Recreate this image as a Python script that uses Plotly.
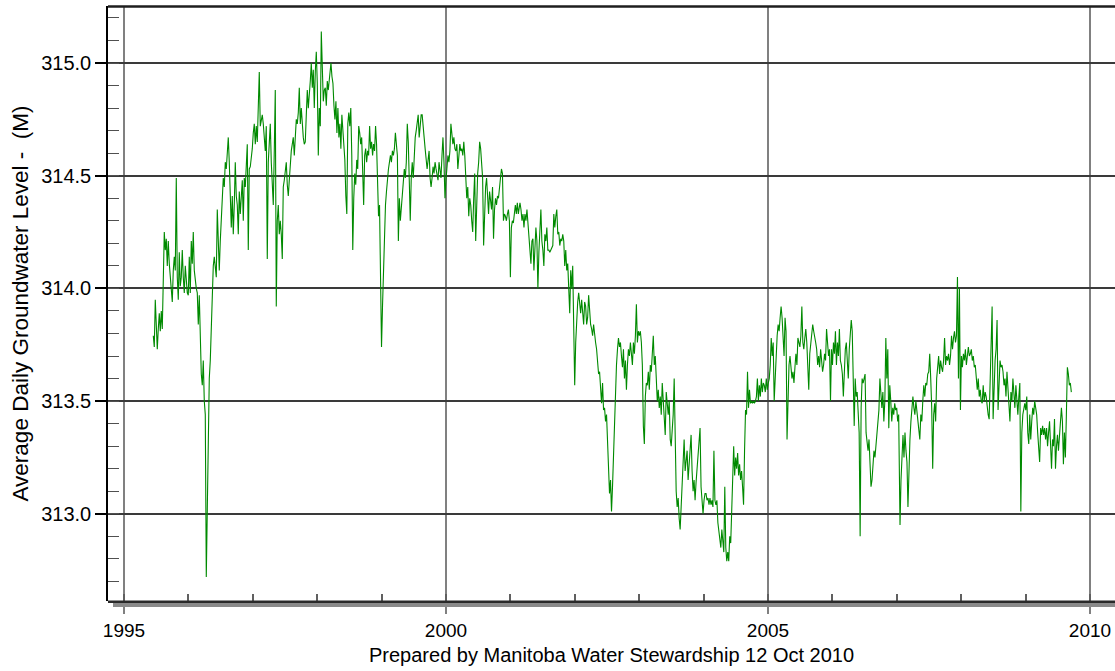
import numpy as np
import plotly.graph_objects as go

# ---- data: average daily groundwater level (m) ----
# each segment: start/end decimal year and the levels between them
seg_a_years = (1995.455, 1998.188)
seg_a_levels = [
    313.79, 313.74, 313.95, 313.84, 313.73, 313.82, 313.89, 313.81, 313.90, 313.82,
    314.14, 314.25, 314.17, 314.22, 314.10, 314.21, 314.11, 314.06, 314.00, 313.94,
    314.08, 314.14, 314.08, 314.49, 314.05, 313.95, 314.16, 314.01, 314.05, 314.17,
    314.05, 313.98, 314.10, 314.01, 313.98, 313.97, 314.14, 313.98, 314.21, 314.11,
    314.25, 314.08, 314.03, 314.00, 313.98, 313.84, 313.97, 313.74, 313.62, 313.57,
    313.68, 313.50, 313.44, 312.72, 313.00, 313.36, 313.60, 313.68, 313.84, 313.92,
    314.10, 314.14, 314.08, 314.05, 314.35, 314.17, 314.08, 314.21, 314.30, 314.41,
    314.49, 314.45, 314.56, 314.53, 314.64, 314.67, 314.56, 314.43, 314.27, 314.41,
    314.24, 314.37, 314.56, 314.41, 314.37, 314.24, 314.43, 314.33, 314.40, 314.48,
    314.30, 314.49, 314.45, 314.53, 314.64, 314.17, 314.53, 314.54, 314.57, 314.62,
    314.69, 314.73, 314.64, 314.72, 314.65, 314.80, 314.96, 314.72, 314.75, 314.77,
    314.73, 314.67, 314.61, 314.72, 314.13, 314.56, 314.67, 314.73, 314.56, 314.43,
    314.37, 314.61, 314.88, 313.92, 314.30, 314.37, 314.24, 314.30, 314.24, 314.13,
    314.45, 314.48, 314.53, 314.56, 314.46, 314.41, 314.48, 314.56, 314.61, 314.64,
    314.67, 314.59, 314.70, 314.75, 314.73, 314.78, 314.89, 314.73, 314.80, 314.72,
    314.67, 314.64, 314.65, 314.77, 314.88, 314.80, 314.89, 314.92, 315.00, 314.89,
    314.97, 314.80, 314.96, 315.05, 314.91, 314.59, 314.80, 314.72, 315.14, 314.91,
    314.83, 314.88, 314.89, 314.81, 314.92, 314.88, 314.94,
]

seg_b_years = (1998.214, 2001.123)
seg_b_levels = [
    315.00, 314.94, 314.91, 314.81, 314.75, 314.83, 314.69, 314.80, 314.67, 314.73,
    314.62, 314.77, 314.70, 314.61, 314.57, 314.41, 314.33, 314.73, 314.78, 314.72,
    314.80, 314.59, 314.17, 314.40, 314.51, 314.46, 314.57, 314.53, 314.72, 314.69,
    314.64, 314.67, 314.51, 314.37, 314.59, 314.62, 314.56, 314.61, 314.59, 314.72,
    314.62, 314.65, 314.59, 314.64, 314.61, 314.72, 314.64, 314.40, 314.32, 314.37,
    314.05, 313.74, 313.92, 314.08, 314.13, 314.37, 314.43, 314.49, 314.53, 314.56,
    314.59, 314.56, 314.61, 314.59, 314.62, 314.69, 314.64, 314.59, 314.21, 314.40,
    314.30, 314.37, 314.40, 314.46, 314.53, 314.49, 314.56, 314.73, 314.65, 314.48,
    314.30, 314.49, 314.56, 314.49, 314.59, 314.67, 314.70, 314.75, 314.77, 314.67,
    314.72, 314.77, 314.77, 314.70, 314.67, 314.62, 314.56, 314.53, 314.57, 314.61,
    314.49, 314.45, 314.49, 314.54, 314.51, 314.56, 314.53, 314.51, 314.48, 314.56,
    314.53, 314.49, 314.59, 314.67, 314.56, 314.40, 314.48, 314.53, 314.59, 314.56,
    314.61, 314.73, 314.69, 314.64, 314.67, 314.62, 314.61, 314.64, 314.53, 314.59,
    314.64, 314.61, 314.62, 314.59, 314.65, 314.59, 314.46, 314.40, 314.45, 314.32,
    314.40, 314.37, 314.30, 314.25, 314.40, 314.51, 314.21, 314.45, 314.51, 314.56,
    314.65, 314.62, 314.56, 314.49, 314.19, 314.37, 314.45, 314.49, 314.40, 314.33,
    314.43, 314.40, 314.35, 314.45, 314.22, 314.35, 314.40, 314.37, 314.41, 314.40,
    314.46, 314.49, 314.53, 314.51, 314.30, 314.33, 314.32, 314.30, 314.33, 314.35,
    314.30, 314.05, 314.27, 314.30, 314.29, 314.35, 314.37, 314.33, 314.38, 314.33,
]

seg_c_years = (2001.149, 2004.084)
seg_c_levels = [
    314.38, 314.35, 314.30, 314.33, 314.27, 314.33, 314.30, 314.35, 314.29, 314.24,
    314.17, 314.11, 314.21, 314.22, 314.08, 314.17, 314.27, 314.21, 314.00, 314.16,
    314.25, 314.35, 314.21, 314.17, 314.10, 314.24, 314.21, 314.27, 314.17, 314.17,
    314.16, 314.17, 314.18, 314.19, 314.33, 314.27, 314.32, 314.35, 314.24, 314.25,
    314.19, 314.22, 314.21, 314.24, 314.21, 314.10, 314.17, 314.08, 314.11, 313.98,
    313.89, 314.08, 314.00, 314.10, 313.81, 313.57, 313.76, 313.90, 313.94, 313.98,
    313.92, 313.89, 313.95, 313.89, 313.84, 313.94, 313.92, 313.84, 313.87, 313.97,
    313.89, 313.84, 313.82, 313.79, 313.84, 313.79, 313.76, 313.73, 313.68, 313.62,
    313.63, 313.54, 313.49, 313.58, 313.46, 313.47, 313.41, 313.44, 313.31, 313.20,
    313.09, 313.15, 313.01, 313.12, 313.28, 313.44, 313.60, 313.66, 313.73, 313.78,
    313.74, 313.76, 313.70, 313.65, 313.73, 313.60, 313.68, 313.55, 313.66, 313.73,
    313.70, 313.76, 313.71, 313.66, 313.76, 313.71, 313.79, 313.93, 313.76, 313.81,
    313.79, 313.81, 313.76, 313.66, 313.39, 313.31, 313.52, 313.58, 313.57, 313.63,
    313.55, 313.66, 313.63, 313.70, 313.79, 313.66, 313.70, 313.60, 313.50, 313.55,
    313.47, 313.52, 313.44, 313.58, 313.50, 313.41, 313.35, 313.54, 313.49, 313.44,
    313.50, 313.33, 313.30, 313.38, 313.44, 313.60, 313.28, 313.10, 313.03, 313.07,
    312.98, 312.93, 313.03, 313.12, 313.22, 313.33, 313.19, 313.23, 313.28, 313.15,
    313.22, 313.31, 313.35, 313.19, 313.10, 313.15, 313.06, 313.14, 313.20, 313.25,
    313.30, 313.38, 313.12, 313.06, 313.00, 313.06, 313.09, 313.09, 313.06, 313.07,
    313.04,
]

seg_d_years = (2004.099, 2007.029)
seg_d_levels = [
    313.07, 313.04, 313.06, 313.03, 313.28, 313.06, 313.04, 313.06, 312.96, 312.93,
    312.90, 312.85, 312.93, 312.87, 312.83, 313.12, 312.85, 312.79, 312.83, 312.79,
    312.90, 312.87, 313.00, 313.09, 313.30, 313.17, 313.25, 313.20, 313.27, 313.17,
    313.22, 313.15, 313.19, 313.12, 313.04, 313.28, 313.46, 313.44, 313.63, 313.47,
    313.55, 313.49, 313.50, 313.49, 313.50, 313.49, 313.50, 313.52, 313.60, 313.50,
    313.57, 313.52, 313.60, 313.54, 313.58, 313.57, 313.54, 313.60, 313.55, 313.58,
    313.60, 313.66, 313.78, 313.70, 313.76, 313.50, 313.60, 313.76, 313.79, 313.84,
    313.81, 313.87, 313.92, 313.87, 313.76, 313.70, 313.87, 313.81, 313.33, 313.58,
    313.66, 313.70, 313.66, 313.60, 313.63, 313.58, 313.65, 313.71, 313.66, 313.78,
    313.76, 313.74, 313.79, 313.92, 313.76, 313.73, 313.78, 313.82, 313.76, 313.68,
    313.55, 313.71, 313.76, 313.81, 313.84, 313.81, 313.79, 313.76, 313.73, 313.66,
    313.70, 313.65, 313.73, 313.68, 313.63, 313.66, 313.71, 313.68, 313.82, 313.76,
    313.70, 313.73, 313.50, 313.73, 313.66, 313.76, 313.71, 313.81, 313.66, 313.76,
    313.70, 313.82, 313.68, 313.66, 313.62, 313.52, 313.65, 313.73, 313.76, 313.66,
    313.60, 313.73, 313.79, 313.86, 313.81, 313.58, 313.39, 313.60, 313.52, 313.54,
    313.44, 313.36, 312.90, 313.47, 313.60, 313.58, 313.60, 313.62, 313.36, 313.31,
    313.28, 313.33, 313.23, 313.12, 313.15, 313.20, 313.28, 313.25, 313.30, 313.33,
    313.39, 313.46, 313.60, 313.50, 313.47, 313.54, 313.41, 313.50, 313.78, 313.60,
    313.73, 313.38, 313.57, 313.50, 313.41, 313.47, 313.44, 313.49, 313.46, 313.47,
    313.41, 313.44,
]

seg_e_years = (2007.050, 2009.710)
seg_e_levels = [
    312.95, 313.15, 313.28, 313.35, 313.25, 313.36, 313.28, 313.23, 313.03, 313.23,
    313.33, 313.41, 313.47, 313.52, 313.47, 313.44, 313.50, 313.46, 313.41, 313.39,
    313.33, 313.44, 313.41, 313.50, 313.57, 313.52, 313.58, 313.57, 313.62, 313.63,
    313.71, 313.60, 313.47, 313.20, 313.44, 313.49, 313.41, 313.60, 313.66, 313.70,
    313.62, 313.68, 313.65, 313.63, 313.68, 313.78, 313.66, 313.70, 313.68, 313.71,
    313.66, 313.70, 313.79, 313.73, 313.78, 313.81, 313.76, 313.79, 314.05, 313.60,
    314.00, 313.46, 313.70, 313.65, 313.71, 313.68, 313.73, 313.66, 313.70, 313.74,
    313.70, 313.71, 313.73, 313.68, 313.70, 313.65, 313.66, 313.60, 313.55, 313.60,
    313.52, 313.55, 313.50, 313.49, 313.57, 313.50, 313.54, 313.52, 313.47, 313.44,
    313.42, 313.60, 313.78, 313.92, 313.42, 313.60, 313.68, 313.73, 313.86, 313.46,
    313.60, 313.68, 313.65, 313.66, 313.63, 313.57, 313.60, 313.52, 313.63, 313.54,
    313.50, 313.41, 313.54, 313.50, 313.60, 313.52, 313.47, 313.57, 313.50, 313.44,
    313.52, 313.58, 313.01, 313.36, 313.44, 313.47, 313.49, 313.46, 313.52, 313.36,
    313.31, 313.44, 313.33, 313.41, 313.47, 313.44, 313.50, 313.47, 313.44, 313.36,
    313.27, 313.23, 313.38, 313.35, 313.39, 313.35, 313.38, 313.33, 313.38, 313.30,
    313.36, 313.41, 313.31, 313.20, 313.33, 313.30, 313.42, 313.20, 313.30, 313.35,
    313.28, 313.36, 313.42, 313.47, 313.41, 313.22, 313.36, 313.25, 313.44, 313.65,
    313.62, 313.57, 313.58, 313.54,
]

segments = [
    (seg_a_years, seg_a_levels),
    (seg_b_years, seg_b_levels),
    (seg_c_years, seg_c_levels),
    (seg_d_years, seg_d_levels),
    (seg_e_years, seg_e_levels),
]

x_major_ticks = [1995, 2000, 2005, 2010]
x_tick_labels = ["1995", "2000", "2005", "2010"]
y_major_ticks = [313.0, 313.5, 314.0, 314.5, 315.0]
y_tick_labels = ["313.0", "313.5", "314.0", "314.5", "315.0"]

y_title = "Average Daily Groundwater Level -&nbsp; (M)"
caption = "Prepared by Manitoba Water Stewardship 12 Oct 2010"

# ---- assemble series ----
xs, ys = [], []
for (y0, y1), lv in segments:
    xs.extend(np.linspace(y0, y1, len(lv)).tolist())
    ys.extend(lv)

FONT = "Liberation Sans, Arial, sans-serif"

fig = go.Figure()
fig.add_trace(go.Scatter(
    x=xs, y=ys, mode="lines",
    line=dict(color="#008a00", width=1.1),
    hoverinfo="skip", showlegend=False,
))

fig.update_layout(
    width=1115, height=671,
    margin=dict(l=108, r=0, t=6, b=70, autoexpand=False),
    paper_bgcolor="white", plot_bgcolor="white",
    font=dict(family=FONT, size=18, color="black"),
    showlegend=False,
)

fig.update_xaxes(
    automargin=False,
    range=[1994.752, 2010.388],
    tickmode="array", tickvals=x_major_ticks, ticktext=x_tick_labels,
    ticks="outside", ticklen=12, tickwidth=2, tickcolor="#808080",
    showgrid=True, gridcolor="#808080", gridwidth=2,
    showline=False, zeroline=False,
    tickfont=dict(family=FONT, size=19, color="black"),
    minor=dict(ticks="inside", tick0=1995, dtick=1, ticklen=7,
               tickwidth=1.5, tickcolor="#606060", showgrid=False),
)

fig.update_yaxes(
    automargin=False,
    range=[312.613, 315.253],
    tickmode="array", tickvals=y_major_ticks, ticktext=y_tick_labels,
    ticks="outside", ticklen=11, tickwidth=1.5, tickcolor="black",
    showgrid=True, gridcolor="#3a3a3a", gridwidth=1.5,
    showline=True, linecolor="black", linewidth=1.5,
    zeroline=False,
    tickfont=dict(family=FONT, size=20, color="black"),
    minor=dict(ticks="inside", tick0=313.0, dtick=0.1, ticklen=11,
               tickwidth=1.2, tickcolor="#505050", showgrid=False),
)

# frame: top border and heavy bottom axis with grey shadow
px = 1.0 / 595.0
fig.add_shape(type="line", xref="paper", yref="paper",
              x0=0, x1=1, y0=1 - px * 0.5, y1=1 - px * 0.5,
              line=dict(color="#1e1e1e", width=2.5))
fig.add_shape(type="rect", xref="paper", yref="paper",
              x0=5 / 1007, x1=1, y0=-px * 6, y1=-px * 1.5,
              fillcolor="#8a8a8a", line=dict(width=0), layer="above")
fig.add_shape(type="line", xref="paper", yref="paper",
              x0=0, x1=1, y0=-px * 0.8, y1=-px * 0.8,
              line=dict(color="#2a2a2a", width=2.5), layer="above")

fig.add_annotation(text=y_title, xref="paper", yref="paper",
                   x=-88 / 1007, y=0.5, textangle=-90, showarrow=False,
                   xanchor="center", yanchor="middle",
                   font=dict(family=FONT, size=22.5, color="black"))
fig.add_annotation(text=caption, xref="paper", yref="paper",
                   x=0.5, y=-54 / 595, showarrow=False,
                   xanchor="center", yanchor="middle",
                   font=dict(family=FONT, size=20, color="black"))

fig.write_html(
    "out.html",
    config={"displayModeBar": False},
    post_script="document.body.style.margin='0';"
                "document.body.style.overflow='hidden';",
)
